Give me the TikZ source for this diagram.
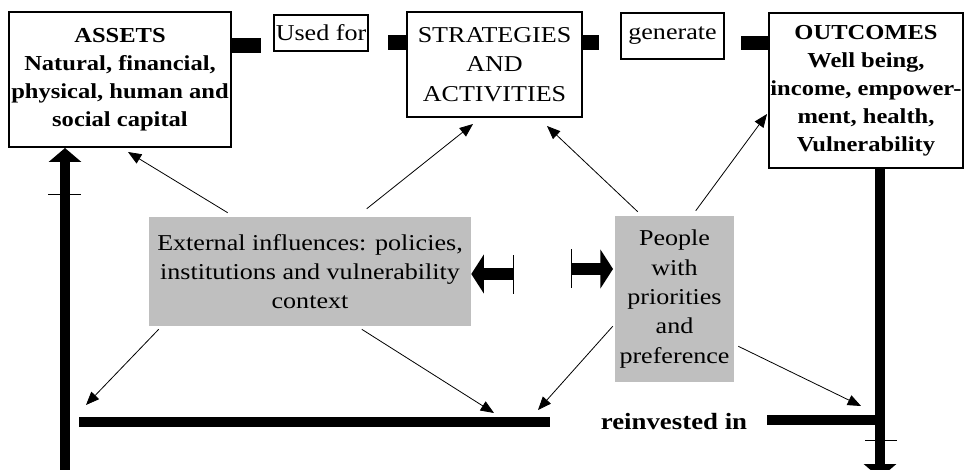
\documentclass[tikz,border=0pt]{standalone}
\usepackage{fontspec}
\setmainfont[FakeStretch=1.15]{Liberation Serif}
\usetikzlibrary{positioning,arrows.meta}

\begin{document}
\begin{tikzpicture}[
  x=0.75pt,y=-0.75pt,
  every node/.style={font=\fontsize{17}{22}\selectfont},
  box/.style={draw,line width=1.5pt,fill=white,align=center,inner sep=0pt},
  bold box/.style={box,font=\fontsize{16}{21}\selectfont\bfseries},
  grey box/.style={fill=black!25,align=center,inner sep=0pt},
  link/.style={line width=0.6pt,-{Triangle[length=10pt,width=8pt]}},
  thick loop/.style={line width=7.5pt},
  loop tip/.style={-{Triangle[length=10.5pt,width=24pt]}},
  fat arrow/.style={line width=9pt,-{Triangle[length=9.5pt,width=29pt]}},
  tick/.style={line width=0.7pt}
]

\useasboundingbox (0,0) rectangle (966,470);

% ==================================================
% 上段：資産 → 戦略 → 成果
% ==================================================
\node[bold box,minimum width=166.5pt,minimum height=101.25pt]
  (assets) at (120,79.5)
  {ASSETS\\Natural, financial,\\physical, human and\\social capital};
\node[box,minimum width=70.5pt,minimum height=27pt]
  (used) at (321,33) {Used for};
\node[box,minimum width=131.25pt,minimum height=78.75pt]
  (strat) at (494.5,64.5) {STRATEGIES\\AND\\ACTIVITIES};
\node[box,minimum width=77.25pt,minimum height=34.5pt]
  (gen) at (672.5,36) {generate};
\node[bold box,minimum width=145.5pt,minimum height=116.25pt]
  (outcomes) at (866,90.5)
  {OUTCOMES\\Well being,\\income, empower-\\ment, health,\\Vulnerability};

% 黒い継ぎ手
\fill (assets.north east) ++(0,27) rectangle ++(29,15);
\fill (strat.north west) ++(0,24) rectangle ++(-18,15);
\fill (strat.north east) ++(0,24) rectangle ++(16,15);
\fill (outcomes.north west) ++(0,24) rectangle ++(-27,14);

% ==================================================
% 中段：外部要因と人々
% ==================================================
\node[grey box,minimum width=241.5pt,minimum height=81.75pt]
  (ext) at (310,271.5)
  {External influences: policies,\\institutions and vulnerability\\context};
\node[grey box,minimum width=89.25pt,minimum height=124.5pt]
  (people) at (674.5,299)
  {People\\with\\priorities\\and\\preference};

% 向かい合う太矢印
\draw[fat arrow] (513,274) -- (ext.east |- 0,274);
\draw[tick] (513,255) -- (513,294);
\draw[fat arrow] (571,269) -- (613,269);
\draw[tick] (571,249) -- (571,288);

% ==================================================
% 下段：再投資のループ
% ==================================================
\coordinate (barL) at (79,422);
\coordinate (barM) at (550,422);
\coordinate (barR) at (767,420);
\coordinate (turnR) at (880,420);
\coordinate (dropR) at (880,478);
\coordinate (riseL) at (65,470);

\node[font=\fontsize{17.5}{22}\selectfont\bfseries]
  (reinv) at (674,422) {reinvested in};

\draw[thick loop] (barL) -- (barM);
\draw[thick loop] (barR) -- (turnR);
\draw[thick loop,loop tip] (dropR |- outcomes.south) -- (dropR);
\draw[thick loop,loop tip] (riseL) -- (riseL |- assets.south);
\draw[tick] (48,194) -- (81,194);
\draw[tick] (865,440) -- (897,440);

% 細い影響の矢印
\draw[link] ([shift={(79,-4)}]ext.north west)
  -- ([shift={(120,4)}]assets.south west);
\draw[link] ([shift={(218,-8)}]ext.north west)
  -- ([shift={(67,6)}]strat.south west);
\draw[link] ([shift={(23,-4)}]people.north west)
  -- ([shift={(141,8)}]strat.south west);
\draw[link] ([shift={(81,-5)}]people.north west)
  -- ([shift={(-1,-55)}]outcomes.south west);
\draw[link] ([shift={(10,3)}]ext.south west)
  -- ([shift={(7,-17)}]barL);
\draw[link] ([shift={(213,3)}]ext.south west)
  -- ([shift={(-56,-9)}]barM);
\draw[link] ([shift={(-2,-56)}]people.south west)
  -- ([shift={(-12,-12)}]barM);
\draw[link] ([shift={(4,-36)}]people.south east)
  -- ([shift={(-19,-14)}]turnR);

\end{tikzpicture}
\end{document}
